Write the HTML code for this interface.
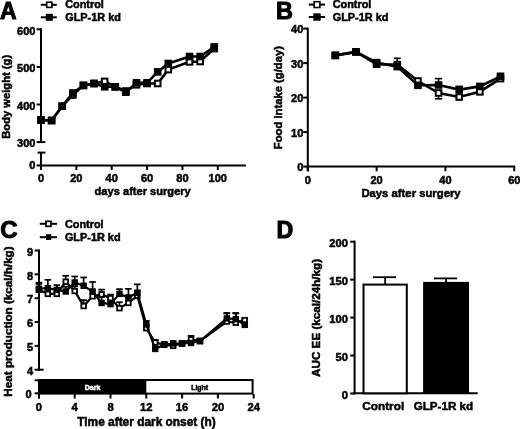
<!DOCTYPE html>
<html><head><meta charset="utf-8"><style>
html,body{margin:0;padding:0;background:#fff;}
svg{display:block;}
#w{width:520px;height:429px;will-change:transform;}
text{font-family:"Liberation Sans", sans-serif;font-weight:bold;stroke:#000;stroke-width:0.5px;}
</style></head><body>
<div id="w"><svg width="520" height="429" viewBox="0 0 520 429">
<rect width="520" height="429" fill="#fff"/>
<text x="0.00" y="18.70" font-size="23.0" text-anchor="start" fill="#000" style="stroke-width:1px">A</text>
<line x1="40.80" y1="4.80" x2="56.80" y2="4.80" stroke="#000" stroke-width="2"/>
<rect x="46.70" y="2.20" width="5.20" height="5.20" fill="#fff" stroke="#000" stroke-width="1.6"/>
<line x1="40.80" y1="17.30" x2="56.80" y2="17.30" stroke="#000" stroke-width="2"/>
<rect x="45.80" y="13.80" width="7.00" height="7.00" fill="#000"/>
<text x="65.20" y="8.30" font-size="10.9" text-anchor="start" fill="#000" >Control</text>
<text x="65.20" y="21.30" font-size="10.9" text-anchor="start" fill="#000" >GLP-1R kd</text>
<line x1="41.00" y1="28.30" x2="41.00" y2="143.10" stroke="#000" stroke-width="2"/>
<line x1="36.60" y1="29.30" x2="41.00" y2="29.30" stroke="#000" stroke-width="2"/>
<text x="35.40" y="34.50" font-size="11.0" text-anchor="end" fill="#000" >600</text>
<line x1="36.60" y1="66.90" x2="41.00" y2="66.90" stroke="#000" stroke-width="2"/>
<text x="35.40" y="72.10" font-size="11.0" text-anchor="end" fill="#000" >500</text>
<line x1="36.60" y1="104.50" x2="41.00" y2="104.50" stroke="#000" stroke-width="2"/>
<text x="35.40" y="109.70" font-size="11.0" text-anchor="end" fill="#000" >400</text>
<line x1="36.60" y1="142.10" x2="41.00" y2="142.10" stroke="#000" stroke-width="2"/>
<text x="35.40" y="147.30" font-size="11.0" text-anchor="end" fill="#000" >300</text>
<line x1="41.00" y1="142.10" x2="45.40" y2="142.10" stroke="#000" stroke-width="2"/>
<line x1="41.00" y1="152.60" x2="41.00" y2="170.00" stroke="#000" stroke-width="2"/>
<line x1="37.50" y1="152.60" x2="45.40" y2="152.60" stroke="#000" stroke-width="2"/>
<line x1="36.60" y1="165.50" x2="41.00" y2="165.50" stroke="#000" stroke-width="2"/>
<text x="35.40" y="169.10" font-size="11.0" text-anchor="end" fill="#000" >0</text>
<line x1="40.00" y1="165.50" x2="245.90" y2="165.50" stroke="#000" stroke-width="2"/>
<line x1="41.00" y1="165.50" x2="41.00" y2="170.00" stroke="#000" stroke-width="2"/>
<text x="41.00" y="182.40" font-size="11.0" text-anchor="middle" fill="#000" >0</text>
<line x1="76.36" y1="165.50" x2="76.36" y2="170.00" stroke="#000" stroke-width="2"/>
<text x="76.36" y="182.40" font-size="11.0" text-anchor="middle" fill="#000" >20</text>
<line x1="111.72" y1="165.50" x2="111.72" y2="170.00" stroke="#000" stroke-width="2"/>
<text x="111.72" y="182.40" font-size="11.0" text-anchor="middle" fill="#000" >40</text>
<line x1="147.08" y1="165.50" x2="147.08" y2="170.00" stroke="#000" stroke-width="2"/>
<text x="147.08" y="182.40" font-size="11.0" text-anchor="middle" fill="#000" >60</text>
<line x1="182.44" y1="165.50" x2="182.44" y2="170.00" stroke="#000" stroke-width="2"/>
<text x="182.44" y="182.40" font-size="11.0" text-anchor="middle" fill="#000" >80</text>
<line x1="217.80" y1="165.50" x2="217.80" y2="170.00" stroke="#000" stroke-width="2"/>
<text x="217.80" y="182.40" font-size="11.0" text-anchor="middle" fill="#000" >100</text>
<text x="142.70" y="195.40" font-size="11.1" text-anchor="middle" fill="#000" >days after surgery</text>
<text transform="translate(10.20,96.80) rotate(-90)" x="0" y="0" font-size="11.2" text-anchor="middle">Body weight (g)</text>
<polyline points="41.00,120.00 51.61,120.50 62.22,106.20 72.82,95.00 83.43,85.40 94.04,83.50 104.65,81.40 115.26,86.80 125.86,91.00 136.47,84.80 147.08,83.50 157.69,83.50 168.30,69.60 189.51,61.90 200.12,61.50 214.26,48.60" fill="none" stroke="#000" stroke-width="2.6" stroke-linejoin="miter"/>
<rect x="38.20" y="117.20" width="5.60" height="5.60" fill="#fff" stroke="#000" stroke-width="2.0"/>
<rect x="48.81" y="117.70" width="5.60" height="5.60" fill="#fff" stroke="#000" stroke-width="2.0"/>
<rect x="59.42" y="103.40" width="5.60" height="5.60" fill="#fff" stroke="#000" stroke-width="2.0"/>
<rect x="70.02" y="92.20" width="5.60" height="5.60" fill="#fff" stroke="#000" stroke-width="2.0"/>
<rect x="80.63" y="82.60" width="5.60" height="5.60" fill="#fff" stroke="#000" stroke-width="2.0"/>
<rect x="91.24" y="80.70" width="5.60" height="5.60" fill="#fff" stroke="#000" stroke-width="2.0"/>
<rect x="101.85" y="78.60" width="5.60" height="5.60" fill="#fff" stroke="#000" stroke-width="2.0"/>
<rect x="112.46" y="84.00" width="5.60" height="5.60" fill="#fff" stroke="#000" stroke-width="2.0"/>
<rect x="123.06" y="88.20" width="5.60" height="5.60" fill="#fff" stroke="#000" stroke-width="2.0"/>
<rect x="133.67" y="82.00" width="5.60" height="5.60" fill="#fff" stroke="#000" stroke-width="2.0"/>
<rect x="144.28" y="80.70" width="5.60" height="5.60" fill="#fff" stroke="#000" stroke-width="2.0"/>
<rect x="154.89" y="80.70" width="5.60" height="5.60" fill="#fff" stroke="#000" stroke-width="2.0"/>
<rect x="165.50" y="66.80" width="5.60" height="5.60" fill="#fff" stroke="#000" stroke-width="2.0"/>
<rect x="186.71" y="59.10" width="5.60" height="5.60" fill="#fff" stroke="#000" stroke-width="2.0"/>
<rect x="197.32" y="58.70" width="5.60" height="5.60" fill="#fff" stroke="#000" stroke-width="2.0"/>
<rect x="211.46" y="45.80" width="5.60" height="5.60" fill="#fff" stroke="#000" stroke-width="2.0"/>
<polyline points="41.00,120.00 51.61,120.50 62.22,106.20 72.82,93.00 83.43,85.40 94.04,83.50 104.65,86.80 115.26,86.80 125.86,92.20 136.47,82.80 147.08,82.80 157.69,71.90 168.30,63.50 189.51,56.50 200.12,56.50 214.26,46.90" fill="none" stroke="#000" stroke-width="2.6" stroke-linejoin="miter"/>
<rect x="37.20" y="116.20" width="7.60" height="7.60" fill="#000"/>
<rect x="47.81" y="116.70" width="7.60" height="7.60" fill="#000"/>
<rect x="58.42" y="102.40" width="7.60" height="7.60" fill="#000"/>
<rect x="69.02" y="89.20" width="7.60" height="7.60" fill="#000"/>
<rect x="79.63" y="81.60" width="7.60" height="7.60" fill="#000"/>
<rect x="90.24" y="79.70" width="7.60" height="7.60" fill="#000"/>
<rect x="100.85" y="83.00" width="7.60" height="7.60" fill="#000"/>
<rect x="111.46" y="83.00" width="7.60" height="7.60" fill="#000"/>
<rect x="122.06" y="88.40" width="7.60" height="7.60" fill="#000"/>
<rect x="132.67" y="79.00" width="7.60" height="7.60" fill="#000"/>
<rect x="143.28" y="79.00" width="7.60" height="7.60" fill="#000"/>
<rect x="153.89" y="68.10" width="7.60" height="7.60" fill="#000"/>
<rect x="164.50" y="59.70" width="7.60" height="7.60" fill="#000"/>
<rect x="185.71" y="52.70" width="7.60" height="7.60" fill="#000"/>
<rect x="196.32" y="52.70" width="7.60" height="7.60" fill="#000"/>
<rect x="210.46" y="43.10" width="7.60" height="7.60" fill="#000"/>
<text x="276.00" y="18.90" font-size="23.4" text-anchor="start" fill="#000" style="stroke-width:1px">B</text>
<line x1="308.80" y1="4.60" x2="325.00" y2="4.60" stroke="#000" stroke-width="2"/>
<rect x="314.10" y="1.70" width="5.80" height="5.80" fill="#fff" stroke="#000" stroke-width="1.6"/>
<line x1="308.80" y1="17.00" x2="325.00" y2="17.00" stroke="#000" stroke-width="2"/>
<rect x="313.30" y="13.30" width="7.40" height="7.40" fill="#000"/>
<text x="332.70" y="8.30" font-size="10.9" text-anchor="start" fill="#000" >Control</text>
<text x="332.70" y="21.00" font-size="10.9" text-anchor="start" fill="#000" >GLP-1R kd</text>
<line x1="307.80" y1="27.60" x2="307.80" y2="171.30" stroke="#000" stroke-width="2"/>
<line x1="303.20" y1="28.60" x2="307.80" y2="28.60" stroke="#000" stroke-width="2"/>
<text x="303.30" y="33.10" font-size="11.0" text-anchor="end" fill="#000" >40</text>
<line x1="303.20" y1="63.10" x2="307.80" y2="63.10" stroke="#000" stroke-width="2"/>
<text x="303.30" y="67.60" font-size="11.0" text-anchor="end" fill="#000" >30</text>
<line x1="303.20" y1="97.60" x2="307.80" y2="97.60" stroke="#000" stroke-width="2"/>
<text x="303.30" y="102.10" font-size="11.0" text-anchor="end" fill="#000" >20</text>
<line x1="303.20" y1="132.10" x2="307.80" y2="132.10" stroke="#000" stroke-width="2"/>
<text x="303.30" y="136.60" font-size="11.0" text-anchor="end" fill="#000" >10</text>
<line x1="303.20" y1="166.60" x2="307.80" y2="166.60" stroke="#000" stroke-width="2"/>
<text x="303.30" y="171.10" font-size="11.0" text-anchor="end" fill="#000" >0</text>
<line x1="306.80" y1="166.60" x2="515.20" y2="166.60" stroke="#000" stroke-width="2"/>
<line x1="307.80" y1="166.60" x2="307.80" y2="171.30" stroke="#000" stroke-width="2"/>
<text x="307.80" y="183.60" font-size="11.0" text-anchor="middle" fill="#000" >0</text>
<line x1="376.62" y1="166.60" x2="376.62" y2="171.30" stroke="#000" stroke-width="2"/>
<text x="376.62" y="183.60" font-size="11.0" text-anchor="middle" fill="#000" >20</text>
<line x1="445.44" y1="166.60" x2="445.44" y2="171.30" stroke="#000" stroke-width="2"/>
<text x="445.44" y="183.60" font-size="11.0" text-anchor="middle" fill="#000" >40</text>
<line x1="514.26" y1="166.60" x2="514.26" y2="171.30" stroke="#000" stroke-width="2"/>
<text x="514.26" y="183.60" font-size="11.0" text-anchor="middle" fill="#000" >60</text>
<text x="411.00" y="197.40" font-size="11.3" text-anchor="middle" fill="#000" >Days after surgery</text>
<text transform="translate(282.20,97.60) rotate(-90)" x="0" y="0" font-size="11.25" text-anchor="middle">Food intake (g/day)</text>
<line x1="397.27" y1="62.00" x2="397.27" y2="58.30" stroke="#000" stroke-width="1.6"/>
<line x1="393.77" y1="58.30" x2="400.77" y2="58.30" stroke="#000" stroke-width="1.6"/>
<line x1="438.56" y1="85.00" x2="438.56" y2="78.60" stroke="#000" stroke-width="1.6"/>
<line x1="434.86" y1="78.60" x2="442.26" y2="78.60" stroke="#000" stroke-width="1.6"/>
<line x1="438.56" y1="93.00" x2="438.56" y2="98.80" stroke="#000" stroke-width="1.6"/>
<line x1="434.86" y1="98.80" x2="442.26" y2="98.80" stroke="#000" stroke-width="1.6"/>
<line x1="459.20" y1="89.60" x2="459.20" y2="86.50" stroke="#000" stroke-width="1.6"/>
<line x1="455.70" y1="86.50" x2="462.70" y2="86.50" stroke="#000" stroke-width="1.6"/>
<line x1="479.85" y1="91.70" x2="479.85" y2="94.50" stroke="#000" stroke-width="1.6"/>
<line x1="476.35" y1="94.50" x2="483.35" y2="94.50" stroke="#000" stroke-width="1.6"/>
<polyline points="335.33,55.40 355.97,51.90 376.62,64.20 397.27,64.60 417.91,81.00 438.56,93.00 459.20,97.00 479.85,91.70 500.50,78.60" fill="none" stroke="#000" stroke-width="2.6" stroke-linejoin="miter"/>
<rect x="332.53" y="52.60" width="5.60" height="5.60" fill="#fff" stroke="#000" stroke-width="2.0"/>
<rect x="353.17" y="49.10" width="5.60" height="5.60" fill="#fff" stroke="#000" stroke-width="2.0"/>
<rect x="373.82" y="61.40" width="5.60" height="5.60" fill="#fff" stroke="#000" stroke-width="2.0"/>
<rect x="394.47" y="61.80" width="5.60" height="5.60" fill="#fff" stroke="#000" stroke-width="2.0"/>
<rect x="415.11" y="78.20" width="5.60" height="5.60" fill="#fff" stroke="#000" stroke-width="2.0"/>
<rect x="435.76" y="90.20" width="5.60" height="5.60" fill="#fff" stroke="#000" stroke-width="2.0"/>
<rect x="456.40" y="94.20" width="5.60" height="5.60" fill="#fff" stroke="#000" stroke-width="2.0"/>
<rect x="477.05" y="88.90" width="5.60" height="5.60" fill="#fff" stroke="#000" stroke-width="2.0"/>
<rect x="497.70" y="75.80" width="5.60" height="5.60" fill="#fff" stroke="#000" stroke-width="2.0"/>
<polyline points="335.33,55.40 355.97,51.90 376.62,62.60 397.27,66.60 417.91,85.30 438.56,85.00 459.20,89.60 479.85,86.40 500.50,76.30" fill="none" stroke="#000" stroke-width="2.6" stroke-linejoin="miter"/>
<rect x="331.53" y="51.60" width="7.60" height="7.60" fill="#000"/>
<rect x="352.17" y="48.10" width="7.60" height="7.60" fill="#000"/>
<rect x="372.82" y="58.80" width="7.60" height="7.60" fill="#000"/>
<rect x="393.47" y="62.80" width="7.60" height="7.60" fill="#000"/>
<rect x="414.11" y="81.50" width="7.60" height="7.60" fill="#000"/>
<rect x="434.76" y="81.20" width="7.60" height="7.60" fill="#000"/>
<rect x="455.40" y="85.80" width="7.60" height="7.60" fill="#000"/>
<rect x="476.05" y="82.60" width="7.60" height="7.60" fill="#000"/>
<rect x="496.70" y="72.50" width="7.60" height="7.60" fill="#000"/>
<text x="0.20" y="237.90" font-size="24.0" text-anchor="start" fill="#000" style="stroke-width:1px">C</text>
<line x1="39.80" y1="223.80" x2="57.00" y2="223.80" stroke="#000" stroke-width="2"/>
<rect x="46.00" y="221.30" width="5.00" height="5.00" fill="#fff" stroke="#000" stroke-width="1.7"/>
<line x1="39.80" y1="237.20" x2="57.00" y2="237.20" stroke="#000" stroke-width="2"/>
<rect x="46" y="234.2" width="5.2" height="5.8" fill="#000"/>
<text x="64.90" y="227.50" font-size="10.9" text-anchor="start" fill="#000" >Control</text>
<text x="64.90" y="240.60" font-size="10.9" text-anchor="start" fill="#000" >GLP-1R kd</text>
<line x1="39.00" y1="249.50" x2="39.00" y2="370.70" stroke="#000" stroke-width="2"/>
<line x1="34.60" y1="250.50" x2="39.00" y2="250.50" stroke="#000" stroke-width="2"/>
<text x="33.00" y="255.80" font-size="11.0" text-anchor="end" fill="#000" >9</text>
<line x1="34.60" y1="274.34" x2="39.00" y2="274.34" stroke="#000" stroke-width="2"/>
<text x="33.00" y="279.64" font-size="11.0" text-anchor="end" fill="#000" >8</text>
<line x1="34.60" y1="298.18" x2="39.00" y2="298.18" stroke="#000" stroke-width="2"/>
<text x="33.00" y="303.48" font-size="11.0" text-anchor="end" fill="#000" >7</text>
<line x1="34.60" y1="322.02" x2="39.00" y2="322.02" stroke="#000" stroke-width="2"/>
<text x="33.00" y="327.32" font-size="11.0" text-anchor="end" fill="#000" >6</text>
<line x1="34.60" y1="345.86" x2="39.00" y2="345.86" stroke="#000" stroke-width="2"/>
<text x="33.00" y="351.16" font-size="11.0" text-anchor="end" fill="#000" >5</text>
<line x1="34.60" y1="369.70" x2="39.00" y2="369.70" stroke="#000" stroke-width="2"/>
<text x="33.00" y="375.00" font-size="11.0" text-anchor="end" fill="#000" >4</text>
<line x1="39.00" y1="369.70" x2="43.60" y2="369.70" stroke="#000" stroke-width="2"/>
<line x1="39.00" y1="380.30" x2="39.00" y2="398.50" stroke="#000" stroke-width="2"/>
<line x1="34.60" y1="380.30" x2="43.60" y2="380.30" stroke="#000" stroke-width="2"/>
<line x1="34.60" y1="393.30" x2="39.00" y2="393.30" stroke="#000" stroke-width="2"/>
<text x="31.50" y="397.60" font-size="11.0" text-anchor="end" fill="#000" >0</text>
<rect x="38.4" y="379" width="107.90" height="15.6" fill="#000"/>
<rect x="145.3" y="380" width="107.30" height="13.6" fill="#fff" stroke="#000" stroke-width="2"/>
<text x="92.60" y="389.60" font-size="7.0" text-anchor="middle" fill="#fff" style="stroke:#fff">Dark</text>
<text x="199.60" y="389.60" font-size="6.9" text-anchor="middle" fill="#000" >Light</text>
<line x1="38.90" y1="394.00" x2="38.90" y2="398.50" stroke="#000" stroke-width="2"/>
<text x="38.90" y="411.30" font-size="11.2" text-anchor="middle" fill="#000" >0</text>
<line x1="74.70" y1="394.00" x2="74.70" y2="398.50" stroke="#000" stroke-width="2"/>
<text x="74.70" y="411.30" font-size="11.2" text-anchor="middle" fill="#000" >4</text>
<line x1="110.50" y1="394.00" x2="110.50" y2="398.50" stroke="#000" stroke-width="2"/>
<text x="110.50" y="411.30" font-size="11.2" text-anchor="middle" fill="#000" >8</text>
<line x1="146.30" y1="394.00" x2="146.30" y2="398.50" stroke="#000" stroke-width="2"/>
<text x="146.30" y="411.30" font-size="11.2" text-anchor="middle" fill="#000" >12</text>
<line x1="182.10" y1="394.00" x2="182.10" y2="398.50" stroke="#000" stroke-width="2"/>
<text x="182.10" y="411.30" font-size="11.2" text-anchor="middle" fill="#000" >16</text>
<line x1="217.90" y1="394.00" x2="217.90" y2="398.50" stroke="#000" stroke-width="2"/>
<text x="217.90" y="411.30" font-size="11.2" text-anchor="middle" fill="#000" >20</text>
<line x1="253.70" y1="394.00" x2="253.70" y2="398.50" stroke="#000" stroke-width="2"/>
<text x="253.70" y="411.30" font-size="11.2" text-anchor="middle" fill="#000" >24</text>
<text x="146.50" y="425.80" font-size="11.9" text-anchor="middle" fill="#000" >Time after dark onset (h)</text>
<text transform="translate(11.60,321.50) rotate(-90)" x="0" y="0" font-size="11.66" text-anchor="middle">Heat production (kcal/h/kg)</text>
<line x1="38.90" y1="288.64" x2="38.90" y2="282.68" stroke="#000" stroke-width="1.7"/>
<line x1="35.60" y1="282.68" x2="42.20" y2="282.68" stroke="#000" stroke-width="1.7"/>
<line x1="47.85" y1="288.17" x2="47.85" y2="279.82" stroke="#000" stroke-width="1.7"/>
<line x1="44.55" y1="279.82" x2="51.15" y2="279.82" stroke="#000" stroke-width="1.7"/>
<line x1="56.80" y1="289.84" x2="56.80" y2="285.07" stroke="#000" stroke-width="1.7"/>
<line x1="53.50" y1="285.07" x2="60.10" y2="285.07" stroke="#000" stroke-width="1.7"/>
<line x1="65.75" y1="291.50" x2="65.75" y2="286.74" stroke="#000" stroke-width="1.7"/>
<line x1="62.45" y1="286.74" x2="69.05" y2="286.74" stroke="#000" stroke-width="1.7"/>
<line x1="74.70" y1="282.45" x2="74.70" y2="276.49" stroke="#000" stroke-width="1.7"/>
<line x1="71.40" y1="276.49" x2="78.00" y2="276.49" stroke="#000" stroke-width="1.7"/>
<line x1="83.65" y1="285.78" x2="83.65" y2="277.44" stroke="#000" stroke-width="1.7"/>
<line x1="80.35" y1="277.44" x2="86.95" y2="277.44" stroke="#000" stroke-width="1.7"/>
<line x1="92.60" y1="291.50" x2="92.60" y2="281.97" stroke="#000" stroke-width="1.7"/>
<line x1="89.30" y1="281.97" x2="95.90" y2="281.97" stroke="#000" stroke-width="1.7"/>
<line x1="101.55" y1="302.95" x2="101.55" y2="296.99" stroke="#000" stroke-width="1.7"/>
<line x1="98.25" y1="296.99" x2="104.85" y2="296.99" stroke="#000" stroke-width="1.7"/>
<line x1="110.50" y1="304.14" x2="110.50" y2="299.37" stroke="#000" stroke-width="1.7"/>
<line x1="107.20" y1="299.37" x2="113.80" y2="299.37" stroke="#000" stroke-width="1.7"/>
<line x1="119.45" y1="293.89" x2="119.45" y2="289.12" stroke="#000" stroke-width="1.7"/>
<line x1="116.15" y1="289.12" x2="122.75" y2="289.12" stroke="#000" stroke-width="1.7"/>
<line x1="128.40" y1="297.46" x2="128.40" y2="288.88" stroke="#000" stroke-width="1.7"/>
<line x1="125.10" y1="288.88" x2="131.70" y2="288.88" stroke="#000" stroke-width="1.7"/>
<line x1="137.35" y1="292.70" x2="137.35" y2="284.35" stroke="#000" stroke-width="1.7"/>
<line x1="134.05" y1="284.35" x2="140.65" y2="284.35" stroke="#000" stroke-width="1.7"/>
<line x1="146.30" y1="324.40" x2="146.30" y2="320.83" stroke="#000" stroke-width="1.7"/>
<line x1="143.00" y1="320.83" x2="149.60" y2="320.83" stroke="#000" stroke-width="1.7"/>
<line x1="155.25" y1="348.96" x2="155.25" y2="346.58" stroke="#000" stroke-width="1.7"/>
<line x1="151.95" y1="346.58" x2="158.55" y2="346.58" stroke="#000" stroke-width="1.7"/>
<line x1="164.20" y1="344.67" x2="164.20" y2="342.28" stroke="#000" stroke-width="1.7"/>
<line x1="160.90" y1="342.28" x2="167.50" y2="342.28" stroke="#000" stroke-width="1.7"/>
<line x1="173.15" y1="343.48" x2="173.15" y2="341.09" stroke="#000" stroke-width="1.7"/>
<line x1="169.85" y1="341.09" x2="176.45" y2="341.09" stroke="#000" stroke-width="1.7"/>
<line x1="182.10" y1="343.48" x2="182.10" y2="341.09" stroke="#000" stroke-width="1.7"/>
<line x1="178.80" y1="341.09" x2="185.40" y2="341.09" stroke="#000" stroke-width="1.7"/>
<line x1="191.05" y1="343.00" x2="191.05" y2="340.62" stroke="#000" stroke-width="1.7"/>
<line x1="187.75" y1="340.62" x2="194.35" y2="340.62" stroke="#000" stroke-width="1.7"/>
<line x1="200.00" y1="341.09" x2="200.00" y2="338.71" stroke="#000" stroke-width="1.7"/>
<line x1="196.70" y1="338.71" x2="203.30" y2="338.71" stroke="#000" stroke-width="1.7"/>
<line x1="226.85" y1="318.44" x2="226.85" y2="312.96" stroke="#000" stroke-width="1.7"/>
<line x1="223.55" y1="312.96" x2="230.15" y2="312.96" stroke="#000" stroke-width="1.7"/>
<line x1="235.80" y1="319.16" x2="235.80" y2="312.96" stroke="#000" stroke-width="1.7"/>
<line x1="232.50" y1="312.96" x2="239.10" y2="312.96" stroke="#000" stroke-width="1.7"/>
<line x1="244.75" y1="324.88" x2="244.75" y2="322.50" stroke="#000" stroke-width="1.7"/>
<line x1="241.45" y1="322.50" x2="248.05" y2="322.50" stroke="#000" stroke-width="1.7"/>
<line x1="38.90" y1="289.84" x2="38.90" y2="283.88" stroke="#000" stroke-width="1.7"/>
<line x1="35.60" y1="283.88" x2="42.20" y2="283.88" stroke="#000" stroke-width="1.7"/>
<line x1="47.85" y1="293.89" x2="47.85" y2="290.31" stroke="#000" stroke-width="1.7"/>
<line x1="44.55" y1="290.31" x2="51.15" y2="290.31" stroke="#000" stroke-width="1.7"/>
<line x1="56.80" y1="293.89" x2="56.80" y2="289.12" stroke="#000" stroke-width="1.7"/>
<line x1="53.50" y1="289.12" x2="60.10" y2="289.12" stroke="#000" stroke-width="1.7"/>
<line x1="65.75" y1="281.73" x2="65.75" y2="275.77" stroke="#000" stroke-width="1.7"/>
<line x1="62.45" y1="275.77" x2="69.05" y2="275.77" stroke="#000" stroke-width="1.7"/>
<line x1="74.70" y1="291.03" x2="74.70" y2="286.26" stroke="#000" stroke-width="1.7"/>
<line x1="71.40" y1="286.26" x2="78.00" y2="286.26" stroke="#000" stroke-width="1.7"/>
<line x1="83.65" y1="306.05" x2="83.65" y2="300.09" stroke="#000" stroke-width="1.7"/>
<line x1="80.35" y1="300.09" x2="86.95" y2="300.09" stroke="#000" stroke-width="1.7"/>
<line x1="92.60" y1="296.27" x2="92.60" y2="290.31" stroke="#000" stroke-width="1.7"/>
<line x1="89.30" y1="290.31" x2="95.90" y2="290.31" stroke="#000" stroke-width="1.7"/>
<line x1="101.55" y1="294.37" x2="101.55" y2="289.60" stroke="#000" stroke-width="1.7"/>
<line x1="98.25" y1="289.60" x2="104.85" y2="289.60" stroke="#000" stroke-width="1.7"/>
<line x1="110.50" y1="298.18" x2="110.50" y2="294.60" stroke="#000" stroke-width="1.7"/>
<line x1="107.20" y1="294.60" x2="113.80" y2="294.60" stroke="#000" stroke-width="1.7"/>
<line x1="119.45" y1="308.19" x2="119.45" y2="302.23" stroke="#000" stroke-width="1.7"/>
<line x1="116.15" y1="302.23" x2="122.75" y2="302.23" stroke="#000" stroke-width="1.7"/>
<line x1="128.40" y1="302.95" x2="128.40" y2="296.99" stroke="#000" stroke-width="1.7"/>
<line x1="125.10" y1="296.99" x2="131.70" y2="296.99" stroke="#000" stroke-width="1.7"/>
<line x1="137.35" y1="295.80" x2="137.35" y2="291.03" stroke="#000" stroke-width="1.7"/>
<line x1="134.05" y1="291.03" x2="140.65" y2="291.03" stroke="#000" stroke-width="1.7"/>
<line x1="146.30" y1="328.22" x2="146.30" y2="324.64" stroke="#000" stroke-width="1.7"/>
<line x1="143.00" y1="324.64" x2="149.60" y2="324.64" stroke="#000" stroke-width="1.7"/>
<line x1="155.25" y1="342.52" x2="155.25" y2="340.14" stroke="#000" stroke-width="1.7"/>
<line x1="151.95" y1="340.14" x2="158.55" y2="340.14" stroke="#000" stroke-width="1.7"/>
<line x1="164.20" y1="344.67" x2="164.20" y2="342.28" stroke="#000" stroke-width="1.7"/>
<line x1="160.90" y1="342.28" x2="167.50" y2="342.28" stroke="#000" stroke-width="1.7"/>
<line x1="173.15" y1="345.86" x2="173.15" y2="343.48" stroke="#000" stroke-width="1.7"/>
<line x1="169.85" y1="343.48" x2="176.45" y2="343.48" stroke="#000" stroke-width="1.7"/>
<line x1="182.10" y1="343.48" x2="182.10" y2="341.09" stroke="#000" stroke-width="1.7"/>
<line x1="178.80" y1="341.09" x2="185.40" y2="341.09" stroke="#000" stroke-width="1.7"/>
<line x1="191.05" y1="339.42" x2="191.05" y2="335.85" stroke="#000" stroke-width="1.7"/>
<line x1="187.75" y1="335.85" x2="194.35" y2="335.85" stroke="#000" stroke-width="1.7"/>
<line x1="200.00" y1="341.09" x2="200.00" y2="338.71" stroke="#000" stroke-width="1.7"/>
<line x1="196.70" y1="338.71" x2="203.30" y2="338.71" stroke="#000" stroke-width="1.7"/>
<line x1="226.85" y1="321.54" x2="226.85" y2="313.44" stroke="#000" stroke-width="1.7"/>
<line x1="223.55" y1="313.44" x2="230.15" y2="313.44" stroke="#000" stroke-width="1.7"/>
<line x1="235.80" y1="322.74" x2="235.80" y2="313.44" stroke="#000" stroke-width="1.7"/>
<line x1="232.50" y1="313.44" x2="239.10" y2="313.44" stroke="#000" stroke-width="1.7"/>
<line x1="244.75" y1="320.11" x2="244.75" y2="318.92" stroke="#000" stroke-width="1.7"/>
<line x1="241.45" y1="318.92" x2="248.05" y2="318.92" stroke="#000" stroke-width="1.7"/>
<polyline points="38.90,289.84 47.85,293.89 56.80,293.89 65.75,281.73 74.70,291.03 83.65,306.05 92.60,296.27 101.55,294.37 110.50,298.18 119.45,308.19 128.40,302.95 137.35,295.80 146.30,328.22 155.25,342.52 164.20,344.67 173.15,345.86 182.10,343.48 191.05,339.42 200.00,341.09 226.85,321.54 235.80,322.74 244.75,320.11" fill="none" stroke="#000" stroke-width="2.2" stroke-linejoin="miter"/>
<rect x="36.60" y="287.54" width="4.60" height="4.60" fill="#fff" stroke="#000" stroke-width="1.8"/>
<rect x="45.55" y="291.59" width="4.60" height="4.60" fill="#fff" stroke="#000" stroke-width="1.8"/>
<rect x="54.50" y="291.59" width="4.60" height="4.60" fill="#fff" stroke="#000" stroke-width="1.8"/>
<rect x="63.45" y="279.43" width="4.60" height="4.60" fill="#fff" stroke="#000" stroke-width="1.8"/>
<rect x="72.40" y="288.73" width="4.60" height="4.60" fill="#fff" stroke="#000" stroke-width="1.8"/>
<rect x="81.35" y="303.75" width="4.60" height="4.60" fill="#fff" stroke="#000" stroke-width="1.8"/>
<rect x="90.30" y="293.97" width="4.60" height="4.60" fill="#fff" stroke="#000" stroke-width="1.8"/>
<rect x="99.25" y="292.07" width="4.60" height="4.60" fill="#fff" stroke="#000" stroke-width="1.8"/>
<rect x="108.20" y="295.88" width="4.60" height="4.60" fill="#fff" stroke="#000" stroke-width="1.8"/>
<rect x="117.15" y="305.89" width="4.60" height="4.60" fill="#fff" stroke="#000" stroke-width="1.8"/>
<rect x="126.10" y="300.65" width="4.60" height="4.60" fill="#fff" stroke="#000" stroke-width="1.8"/>
<rect x="135.05" y="293.50" width="4.60" height="4.60" fill="#fff" stroke="#000" stroke-width="1.8"/>
<rect x="144.00" y="325.92" width="4.60" height="4.60" fill="#fff" stroke="#000" stroke-width="1.8"/>
<rect x="152.95" y="340.22" width="4.60" height="4.60" fill="#fff" stroke="#000" stroke-width="1.8"/>
<rect x="161.90" y="342.37" width="4.60" height="4.60" fill="#fff" stroke="#000" stroke-width="1.8"/>
<rect x="170.85" y="343.56" width="4.60" height="4.60" fill="#fff" stroke="#000" stroke-width="1.8"/>
<rect x="179.80" y="341.18" width="4.60" height="4.60" fill="#fff" stroke="#000" stroke-width="1.8"/>
<rect x="188.75" y="337.12" width="4.60" height="4.60" fill="#fff" stroke="#000" stroke-width="1.8"/>
<rect x="197.70" y="338.79" width="4.60" height="4.60" fill="#fff" stroke="#000" stroke-width="1.8"/>
<rect x="224.55" y="319.24" width="4.60" height="4.60" fill="#fff" stroke="#000" stroke-width="1.8"/>
<rect x="233.50" y="320.44" width="4.60" height="4.60" fill="#fff" stroke="#000" stroke-width="1.8"/>
<rect x="242.45" y="317.81" width="4.60" height="4.60" fill="#fff" stroke="#000" stroke-width="1.8"/>
<polyline points="38.90,288.64 47.85,288.17 56.80,289.84 65.75,291.50 74.70,282.45 83.65,285.78 92.60,291.50 101.55,302.95 110.50,304.14 119.45,293.89 128.40,297.46 137.35,292.70 146.30,324.40 155.25,348.96 164.20,344.67 173.15,343.48 182.10,343.48 191.05,343.00 200.00,341.09 226.85,318.44 235.80,319.16 244.75,324.88" fill="none" stroke="#000" stroke-width="2.2" stroke-linejoin="miter"/>
<rect x="35.70" y="285.44" width="6.40" height="6.40" fill="#000"/>
<rect x="44.65" y="284.97" width="6.40" height="6.40" fill="#000"/>
<rect x="53.60" y="286.64" width="6.40" height="6.40" fill="#000"/>
<rect x="62.55" y="288.30" width="6.40" height="6.40" fill="#000"/>
<rect x="71.50" y="279.25" width="6.40" height="6.40" fill="#000"/>
<rect x="80.45" y="282.58" width="6.40" height="6.40" fill="#000"/>
<rect x="89.40" y="288.30" width="6.40" height="6.40" fill="#000"/>
<rect x="98.35" y="299.75" width="6.40" height="6.40" fill="#000"/>
<rect x="107.30" y="300.94" width="6.40" height="6.40" fill="#000"/>
<rect x="116.25" y="290.69" width="6.40" height="6.40" fill="#000"/>
<rect x="125.20" y="294.26" width="6.40" height="6.40" fill="#000"/>
<rect x="134.15" y="289.50" width="6.40" height="6.40" fill="#000"/>
<rect x="143.10" y="321.20" width="6.40" height="6.40" fill="#000"/>
<rect x="152.05" y="345.76" width="6.40" height="6.40" fill="#000"/>
<rect x="161.00" y="341.47" width="6.40" height="6.40" fill="#000"/>
<rect x="169.95" y="340.28" width="6.40" height="6.40" fill="#000"/>
<rect x="178.90" y="340.28" width="6.40" height="6.40" fill="#000"/>
<rect x="187.85" y="339.80" width="6.40" height="6.40" fill="#000"/>
<rect x="196.80" y="337.89" width="6.40" height="6.40" fill="#000"/>
<rect x="223.65" y="315.24" width="6.40" height="6.40" fill="#000"/>
<rect x="232.60" y="315.96" width="6.40" height="6.40" fill="#000"/>
<rect x="241.55" y="321.68" width="6.40" height="6.40" fill="#000"/>
<text x="276.50" y="237.50" font-size="23.2" text-anchor="start" fill="#000" style="stroke-width:1px">D</text>
<line x1="354.60" y1="240.70" x2="354.60" y2="394.30" stroke="#000" stroke-width="2"/>
<line x1="350.20" y1="241.70" x2="354.60" y2="241.70" stroke="#000" stroke-width="2"/>
<text x="348.00" y="246.70" font-size="11.2" text-anchor="end" fill="#000" >200</text>
<line x1="350.20" y1="279.65" x2="354.60" y2="279.65" stroke="#000" stroke-width="2"/>
<text x="348.00" y="284.65" font-size="11.2" text-anchor="end" fill="#000" >150</text>
<line x1="350.20" y1="317.60" x2="354.60" y2="317.60" stroke="#000" stroke-width="2"/>
<text x="348.00" y="322.60" font-size="11.2" text-anchor="end" fill="#000" >100</text>
<line x1="350.20" y1="355.55" x2="354.60" y2="355.55" stroke="#000" stroke-width="2"/>
<text x="348.00" y="360.55" font-size="11.2" text-anchor="end" fill="#000" >50</text>
<line x1="350.20" y1="393.50" x2="354.60" y2="393.50" stroke="#000" stroke-width="2"/>
<text x="348.00" y="398.50" font-size="11.2" text-anchor="end" fill="#000" >0</text>
<line x1="353.00" y1="393.30" x2="477.70" y2="393.30" stroke="#000" stroke-width="2"/>
<line x1="385.15" y1="284.60" x2="385.15" y2="277.20" stroke="#000" stroke-width="1.8"/>
<line x1="372.90" y1="277.20" x2="396.00" y2="277.20" stroke="#000" stroke-width="1.8"/>
<line x1="446.05" y1="282.90" x2="446.05" y2="278.40" stroke="#000" stroke-width="1.8"/>
<line x1="434.00" y1="278.40" x2="457.10" y2="278.40" stroke="#000" stroke-width="1.8"/>
<rect x="363.5" y="284.6" width="43.3" height="108.7" fill="#fff" stroke="#000" stroke-width="2"/>
<rect x="423.1" y="281.9" width="45.9" height="111.4" fill="#000"/>
<text x="383.20" y="410.10" font-size="11.8" text-anchor="middle" fill="#000" >Control</text>
<text x="443.40" y="410.10" font-size="11.6" text-anchor="middle" fill="#000" >GLP-1R kd</text>
<text transform="translate(320.40,317.90) rotate(-90)" x="0" y="0" font-size="11.68" text-anchor="middle">AUC EE (kcal/24h/kg)</text>
</svg></div>
</body></html>
